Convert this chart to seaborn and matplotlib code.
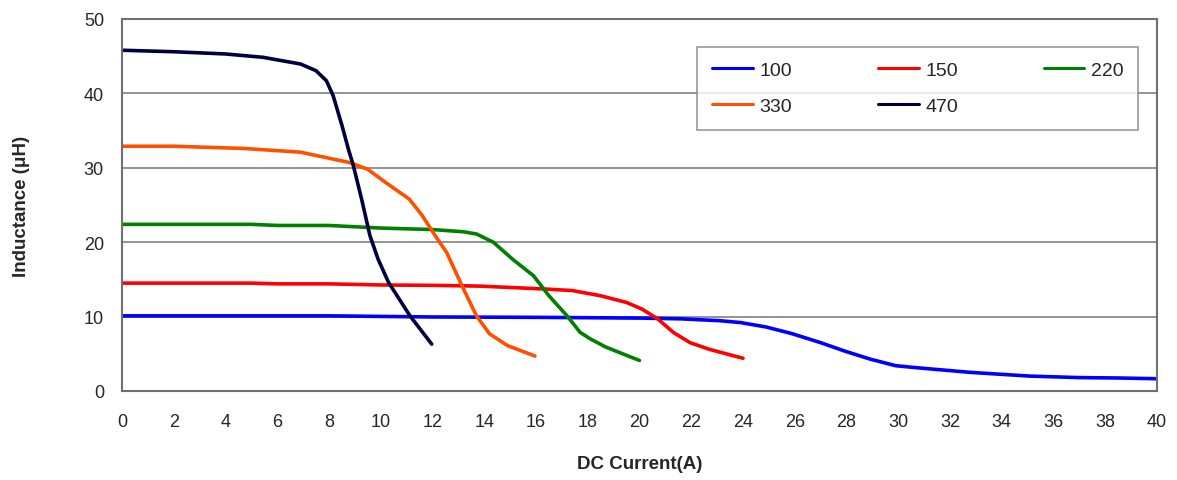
import numpy as np
import pandas as pd
import matplotlib
matplotlib.use("Agg")
import matplotlib.pyplot as plt
import seaborn as sns

# ---- data ----
x_100 = [0, 4, 8, 12, 16, 20, 21.6, 23.1, 23.9, 24.9, 25.9, 27.0, 27.9, 28.9, 29.9, 30.8, 32.8, 35.1, 37.0, 38.5, 40.0]
y_100 = [10.1, 10.1, 10.1, 9.95, 9.9, 9.8, 9.7, 9.45, 9.2, 8.6, 7.7, 6.5, 5.4, 4.3, 3.4, 3.1, 2.5, 2.0, 1.8, 1.75, 1.65]

x_150 = [0, 5, 6, 8, 10, 12, 13.8, 16.4, 17.4, 18.5, 19.5, 20.1, 20.7, 21.3, 21.95, 22.7, 24.0]
y_150 = [14.5, 14.5, 14.4, 14.4, 14.25, 14.2, 14.1, 13.7, 13.5, 12.8, 11.9, 11.0, 9.7, 7.9, 6.5, 5.6, 4.4]

x_220 = [0, 5, 6, 8, 10, 12.0, 13.2, 13.7, 14.35, 15.1, 15.9, 16.5, 17.2, 17.7, 18.1, 18.7, 20.0]
y_220 = [22.4, 22.4, 22.25, 22.25, 21.9, 21.7, 21.4, 21.1, 20.0, 17.7, 15.5, 12.8, 10.1, 7.9, 7.0, 5.9, 4.1]

x_330 = [0, 2, 4.7, 6.9, 8.8, 9.5, 10.2, 11.1, 11.6, 12.1, 12.55, 13.2, 13.7, 14.2, 14.9, 15.96]
y_330 = [32.9, 32.9, 32.6, 32.1, 30.7, 29.8, 28.0, 25.8, 23.6, 20.9, 18.6, 13.7, 10.1, 7.7, 6.1, 4.7]

x_470 = [0, 2, 4, 5.45, 6.9, 7.5, 7.9, 8.16, 8.5, 8.75, 8.94, 9.26, 9.58, 9.9, 10.3, 11.13, 11.97]
y_470 = [45.8, 45.6, 45.3, 44.85, 43.95, 43.05, 41.7, 39.7, 35.7, 32.5, 30.3, 25.8, 20.9, 17.7, 14.6, 10.1, 6.3]

series_names = ["100", "150", "220", "330", "470"]
series_x = [x_100, x_150, x_220, x_330, x_470]
series_y = [y_100, y_150, y_220, y_330, y_470]
colors = ["#0000ff", "#ff0000", "#008000", "#ff5000", "#000040"]

x_ticks = list(range(0, 41, 2))
y_ticks = [0, 10, 20, 30, 40, 50]

rows = []
for name, xs, ys in zip(series_names, series_x, series_y):
    for xv, yv in zip(xs, ys):
        rows.append({"I": xv, "L": yv, "series": name})
df = pd.DataFrame(rows)

sns.set_style("white")
plt.rcParams["font.family"] = ["Liberation Sans", "DejaVu Sans"]

fig = plt.figure(figsize=(11.77, 4.81), dpi=100)
ax = fig.add_axes([122 / 1177, 1 - 392 / 481, (1157 - 122) / 1177, (392 - 20) / 481])

sns.lineplot(data=df, x="I", y="L", hue="series", hue_order=series_names,
             palette=dict(zip(series_names, colors)), ax=ax, linewidth=2.6,
             sort=False, estimator=None)

ax.set_xlim(0, 40)
ax.set_ylim(0, 50)
ax.set_xticks(x_ticks)
ax.set_yticks(y_ticks)
ax.tick_params(axis="x", direction="in", length=5, width=1, color="#707070",
               labelsize=13, pad=16)
ax.tick_params(axis="y", direction="out", length=5, width=1, color="#707070",
               labelsize=13, pad=8)
ax.grid(axis="y", color="#808080", linewidth=1.2)
ax.grid(axis="x", visible=False)
for s in ax.spines.values():
    s.set_visible(True)
    s.set_color("#707070")
    s.set_linewidth(1.5)

ax.set_xlabel("DC Current(A)", fontsize=13.5, fontweight="bold", labelpad=18)
ax.set_ylabel("Inductance (\u03bcH)", fontsize=13.5, fontweight="bold", labelpad=39)

handles, labels = ax.get_legend_handles_labels()
hmap = dict(zip(labels, handles))
order = ["100", "330", "150", "470", "220"]  # row-wise filling for 3 columns
leg = ax.legend([hmap[k] for k in order], order,
                loc="upper left", bbox_to_anchor=(0.556, 0.712, 0.426, 0.213),
                mode="expand", ncol=3, frameon=True, fancybox=False,
                fontsize=14, handlelength=2.1, handletextpad=0.35,
                borderpad=0.75, labelspacing=0.95, borderaxespad=0)
leg.get_frame().set_edgecolor("#808080")
leg.get_frame().set_linewidth(1.2)
for line in leg.get_lines():
    line.set_linewidth(2.2)

fig.savefig("out.png", dpi=100, facecolor="white")
